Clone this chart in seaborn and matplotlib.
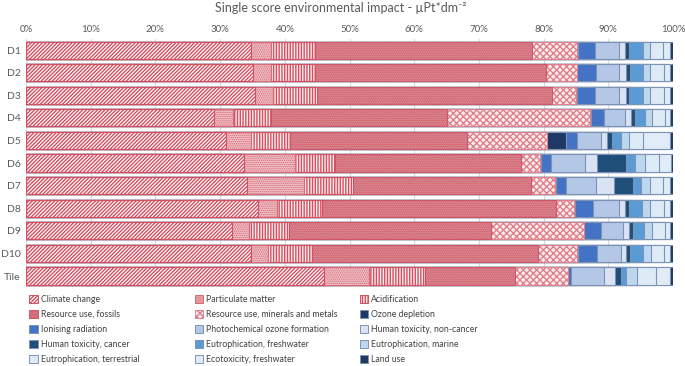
import numpy as np
import pandas as pd
import matplotlib
matplotlib.use('Agg')
import matplotlib.pyplot as plt
from matplotlib.patches import Patch
import seaborn as sns

rows = ['D1', 'D2', 'D3', 'D4', 'D5', 'D6', 'D7', 'D8', 'D9', 'D10', 'Tile']

impacts = ['Climate change', 'Particulate matter', 'Acidification',
           'Resource use, fossils', 'Resource use, minerals and metals', 'Ozone depletion',
           'Ionising radiation', 'Photochemical ozone formation', 'Human toxicity, non-cancer',
           'Human toxicity, cancer', 'Eutrophication, freshwater', 'Eutrophication, marine',
           'Eutrophication, terrestrial', 'Ecotoxicity, freshwater', 'Land use']

# share of single score (%) per impact category, one value per row
climate_change = [34.7, 35.1, 35.4, 29.0, 30.9, 33.7, 34.2, 35.9, 31.8, 34.7, 46.0]
particulate = [3.1, 2.7, 2.7, 3.0, 3.8, 7.8, 8.7, 2.9, 2.7, 2.7, 7.0]
acidification = [6.8, 6.8, 6.9, 5.8, 6.1, 6.3, 7.7, 7.0, 6.2, 6.8, 8.7]
fossils = [33.6, 35.7, 36.3, 27.2, 27.4, 28.7, 27.5, 36.1, 31.1, 34.9, 13.8]
minerals = [7.0, 4.8, 3.7, 22.2, 12.3, 3.0, 3.7, 2.8, 14.4, 6.1, 8.3]
ozone = [0.1, 0.1, 0.1, 0.1, 2.9, 0.1, 0.1, 0.1, 0.1, 0.1, 0.0]
ionising = [2.7, 2.9, 2.9, 2.1, 1.8, 1.5, 1.5, 2.9, 2.5, 2.9, 0.4]
photochem = [3.7, 3.6, 3.7, 3.2, 3.6, 5.3, 4.7, 3.9, 3.5, 3.7, 5.2]
htox_noncancer = [0.9, 1.0, 1.0, 0.9, 1.0, 1.8, 2.8, 1.0, 0.9, 0.9, 1.7]
htox_cancer = [0.6, 0.6, 0.5, 0.6, 0.7, 4.5, 2.9, 0.6, 0.6, 0.6, 0.9]
eutro_fresh = [2.1, 2.1, 2.1, 1.5, 1.5, 1.4, 1.3, 2.0, 1.7, 1.9, 0.7]
eutro_marine = [1.1, 1.1, 1.2, 1.2, 1.2, 1.5, 1.3, 1.3, 1.3, 1.3, 1.8]
eutro_terr = [2.1, 2.1, 2.1, 1.9, 2.1, 2.2, 2.1, 2.1, 1.9, 2.0, 2.9]
ecotox_fresh = [1.0, 1.0, 1.0, 0.9, 4.3, 1.9, 1.1, 1.0, 0.9, 1.0, 2.1]
land_use = [0.5, 0.4, 0.4, 0.4, 0.4, 0.3, 0.4, 0.4, 0.4, 0.4, 0.5]

series = [climate_change, particulate, acidification, fossils, minerals, ozone,
          ionising, photochem, htox_noncancer, htox_cancer, eutro_fresh,
          eutro_marine, eutro_terr, ecotox_fresh, land_use]

red = '#D64F60'
blue_edge = '#7C93B4'
# (face, edge, hatch, hatch linewidth)
styles = [
    ('white', red, '/' * 9, 1.0),
    ('#EDBCC2', '#DA6A78', '.' * 8, 0.6),
    ('#FBEFF0', red, '|' * 6, 1.0),
    ('#DA8790', '#CF5767', '.' * 9, 0.6),
    ('#FBEDEE', '#E07F8B', 'x' * 5, 1.0),
    ('#203864', blue_edge, None, 0.7),
    ('#4472C4', blue_edge, None, 0.7),
    ('#B4C7E7', blue_edge, None, 0.7),
    ('#DAE3F3', blue_edge, None, 0.7),
    ('#1F4E79', blue_edge, None, 0.7),
    ('#5B9BD5', blue_edge, None, 0.7),
    ('#BDD7EE', blue_edge, None, 0.7),
    ('#DEEBF7', blue_edge, None, 0.7),
    ('#E1ECF8', blue_edge, None, 0.7),
    ('#1F3864', blue_edge, None, 0.7),
]

sns.set_style('white')
plt.rcParams['font.family'] = ['Lato', 'DejaVu Sans']

fig = plt.figure(figsize=(6.85, 3.66), dpi=100)
ax = fig.add_axes([0.038, 0.215, 0.9445, 0.679])

cum = np.cumsum(np.array(series), axis=0)
cum = cum / cum[-1] * 100

# draw cumulative bars from the longest to the shortest so each one covers the previous
for k in range(len(impacts) - 1, -1, -1):
    face, edge, hatch, hlw = styles[k]
    df = pd.DataFrame({'row': rows, 'value': cum[k]})
    with plt.rc_context({'hatch.linewidth': hlw}):
        sns.barplot(data=df, x='value', y='row', orient='y', ax=ax, color=face,
                    saturation=1, width=0.76, edgecolor=edge, linewidth=0.8,
                    hatch=hatch, errorbar=None, zorder=2)

ax.set_xlim(0, 100)
ax.set_xticks(np.arange(0, 101, 10))
ax.set_xticklabels([f'{v}%' for v in range(0, 101, 10)])
ax.xaxis.tick_top()
ax.tick_params(axis='x', length=0, pad=3.5, labelsize=7, colors='#595959')
ax.tick_params(axis='y', length=0, pad=4, labelsize=7.5, colors='#595959')
ax.set_xlabel('')
ax.set_ylabel('')
ax.grid(axis='x', color='#D9D9D9', linewidth=0.8, zorder=0)
ax.set_axisbelow(True)
for s in ax.spines.values():
    s.set_visible(False)

fig.text(0.497, 0.978, 'Single score environmental impact - µPt*dm⁻²',
         ha='center', va='center', fontsize=9, color='#595959')

handles = []
for k, name in enumerate(impacts):
    face, edge, hatch, hlw = styles[k]
    handles.append(Patch(facecolor=face, edgecolor=edge, hatch=hatch, linewidth=0.7, label=name))

col_x = [0.043, 0.284, 0.525]
for j in range(3):
    hs = handles[j::3]
    fig.legend(handles=hs, labels=[h.get_label() for h in hs], loc='upper left',
               bbox_to_anchor=(col_x[j], 0.194), frameon=False, fontsize=6.3,
               handlelength=1.0, handleheight=1.0, handletextpad=0.3,
               labelspacing=0.68, borderpad=0, borderaxespad=0, labelcolor='#404040')

fig.savefig('out.png', dpi=100)
